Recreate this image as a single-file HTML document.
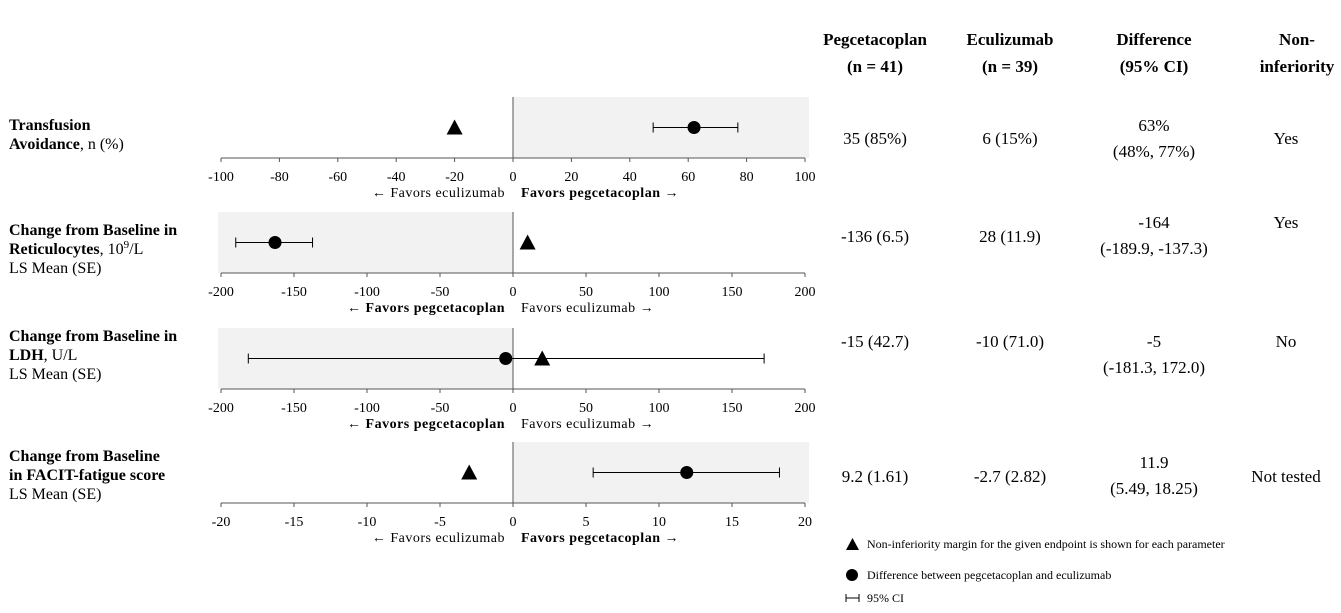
<!DOCTYPE html>
<html><head><meta charset="utf-8"><style>
body{margin:0;background:#fff;}
svg{display:block;font-family:"Liberation Serif",serif;}
</style></head><body>
<svg id="chart" width="1341" height="613" viewBox="0 0 1341 613">
<g id="headers" font-weight="bold" font-size="17" text-anchor="middle">
<text x="875" y="45">Pegcetacoplan</text>
<text x="875" y="72">(n = 41)</text>
<text x="1010" y="45">Eculizumab</text>
<text x="1010" y="72">(n = 39)</text>
<text x="1154" y="45">Difference</text>
<text x="1154" y="72">(95% CI)</text>
<text x="1297" y="45">Non-</text>
<text x="1297" y="72">inferiority</text>
</g>
<g font-size="16">
<text x="9" y="130"><tspan font-weight="bold">Transfusion</tspan></text>
<text x="9" y="149"><tspan font-weight="bold">Avoidance</tspan>, n (%)</text>
<text x="9" y="235"><tspan font-weight="bold">Change from Baseline in</tspan></text>
<text x="9" y="254"><tspan font-weight="bold">Reticulocytes</tspan>, 10<tspan font-size="11" dy="-6">9</tspan><tspan dy="6">/L</tspan></text>
<text x="9" y="273">LS Mean (SE)</text>
<text x="9" y="341"><tspan font-weight="bold">Change from Baseline in</tspan></text>
<text x="9" y="360"><tspan font-weight="bold">LDH</tspan>, U/L</text>
<text x="9" y="379">LS Mean (SE)</text>
<text x="9" y="461"><tspan font-weight="bold">Change from Baseline</tspan></text>
<text x="9" y="480"><tspan font-weight="bold">in FACIT-fatigue score</tspan></text>
<text x="9" y="499">LS Mean (SE)</text>
</g>
<g font-size="17" text-anchor="middle">
<text x="875" y="144">35 (85%)</text>
<text x="1010" y="144">6 (15%)</text>
<text x="1154" y="131">63%</text>
<text x="1154" y="157">(48%, 77%)</text>
<text x="1286" y="144">Yes</text>
<text x="875" y="242">-136 (6.5)</text>
<text x="1010" y="242">28 (11.9)</text>
<text x="1154" y="228">-164</text>
<text x="1154" y="254">(-189.9, -137.3)</text>
<text x="1286" y="228">Yes</text>
<text x="875" y="347">-15 (42.7)</text>
<text x="1010" y="347">-10 (71.0)</text>
<text x="1154" y="347">-5</text>
<text x="1154" y="373">(-181.3, 172.0)</text>
<text x="1286" y="347">No</text>
<text x="875" y="482">9.2 (1.61)</text>
<text x="1010" y="482">-2.7 (2.82)</text>
<text x="1154" y="468">11.9</text>
<text x="1154" y="494">(5.49, 18.25)</text>
<text x="1286" y="482">Not tested</text>
</g>
<g font-size="12">
<polygon points="846,550 859,550 852.5,538" fill="#000"/>
<text x="867" y="548">Non-inferiority margin for the given endpoint is shown for each parameter</text>
<circle cx="852" cy="575" r="6" fill="#000"/>
<text x="867" y="579">Difference between pegcetacoplan and eculizumab</text>
<path d="M846,594V602M846,598H859M859,594V602" stroke="#000" fill="none"/>
<text x="867" y="602">95% CI</text>
</g>
<g id="panels"></g>
</svg>
<script>
const panelNames = ["transfusion","reticulocytes","ldh","facit"];
const axisMin = [-100,-200,-200,-20];
const axisMax = [100,200,200,20];
const tickStep = [20,50,50,5];
const margins = [-20,10,20,-3];
const diffs = [62,-163,-5,11.9];
const ciLow = [48,-189.9,-181.3,5.49];
const ciHigh = [77,-137.3,172,18.25];
const leftLabels = ["Favors eculizumab","Favors pegcetacoplan","Favors pegcetacoplan","Favors eculizumab"];
const rightLabels = ["Favors pegcetacoplan","Favors eculizumab","Favors eculizumab","Favors pegcetacoplan"];
const shadeRight = [true,false,false,true];
const tops = [97,212,328,442];
const NS="http://www.w3.org/2000/svg";
const X0=221, X1=805, H=61;
const root=document.getElementById('panels');
function mk(tag,attrs,parent){const e=document.createElementNS(NS,tag);for(const k in attrs)e.setAttribute(k,attrs[k]);parent.appendChild(e);return e;}
panelNames.forEach((name,i)=>{
  const g=mk('g',{},root);
  
  
  const sx=v=>X0+(v-axisMin[i])/(axisMax[i]-axisMin[i])*(X1-X0);
  const top=tops[i], base=top+H, my=top+H/2;
  const zx=sx(0);
  const sh=shadeRight[i]?mk('rect',{x:zx,y:top,width:809-zx,height:H,fill:'#f2f2f2'},g):mk('rect',{x:218,y:top,width:zx-218,height:H,fill:'#f2f2f2'},g);
  
  
  const zl=mk('line',{x1:zx,x2:zx,y1:top,y2:base,stroke:'#555','stroke-width':1},g);
  
  
  const ax=mk('line',{x1:X0,x2:X1,y1:base,y2:base,stroke:'#555','stroke-width':1},g);
  
  
  for(let v=axisMin[i];v<=axisMax[i]+1e-9;v+=tickStep[i]){
    const tk=mk('line',{x1:sx(v),x2:sx(v),y1:base,y2:base+4,stroke:'#555'},g);
    
    
    const t=mk('text',{x:sx(v),y:base+23,'font-size':14,'text-anchor':'middle'},g);
    t.textContent=v;
    
    
  }
  const lb=mk('text',{x:zx-8,y:base+39,'font-size':14,'text-anchor':'end','letter-spacing':'0.5','font-weight':leftLabels[i]==="Favors pegcetacoplan"?'bold':'normal'},g);
  lb.textContent='\u2190 '+leftLabels[i];
  
  
  const rb=mk('text',{x:zx+8,y:base+39,'font-size':14,'text-anchor':'start','letter-spacing':'0.5','font-weight':rightLabels[i]==="Favors pegcetacoplan"?'bold':'normal'},g);
  rb.textContent=rightLabels[i]+' \u2192';
  
  
  const ci=mk('path',{d:`M${sx(ciLow[i])},${my-5}V${my+5}M${sx(ciLow[i])},${my}H${sx(ciHigh[i])}M${sx(ciHigh[i])},${my-5}V${my+5}`,stroke:'#000',fill:'none'},g);
  
  
  const c=mk('circle',{cx:sx(diffs[i]),cy:my,r:6.5,fill:'#000'},g);
  
  
  const mx=sx(margins[i]);
  const tr=mk('polygon',{points:`${mx-8},${my+7} ${mx+8},${my+7} ${mx},${my-8}`,fill:'#000'},g);
  
  
});
</script>
</body></html>
